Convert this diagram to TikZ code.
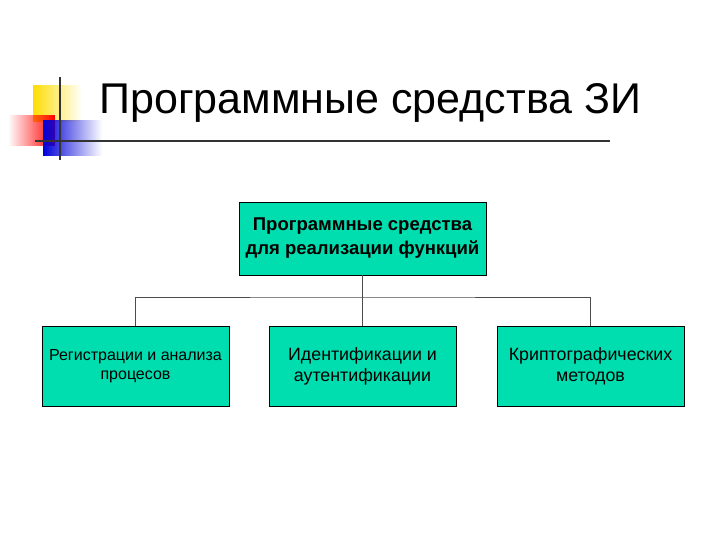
\documentclass[tikz,border=0pt]{standalone}
\usepackage{fontspec}
\setmainfont{Liberation Sans}
\usetikzlibrary{fadings}
\definecolor{boxc}{RGB}{0,222,176}
\begin{document}
\begin{tikzpicture}[x=1pt,y=-1pt,
  bx/.style={draw=black,fill=boxc,inner sep=0pt,align=center},
  ln/.style={draw=black!70,line width=0.6pt}]
\useasboundingbox (0,0) rectangle (720,540);
\fill[yellow!80!orange,path fading=east] (33,85) rectangle (82,122);
\fill[red,path fading=west] (8,115) rectangle (55,146);
\fill[blue!85!black,path fading=east] (43,120) rectangle (102,156);
\draw[line width=1.2pt,black!80] (60,77) -- (60,160);
\draw[line width=1.2pt,black!80] (35,141) -- (610,141);
\node[anchor=west,font=\fontsize{43}{48}\selectfont] (title) at (96,103) {Программные средства ЗИ};
\node[bx,minimum width=247pt,minimum height=73pt,font=\bfseries\fontsize{18.5}{24}\selectfont] (top) at (362.5,238.5) {Программные средства\\для реализации функций};
\node[bx,minimum width=187pt,minimum height=80pt,font=\fontsize{16}{19}\selectfont] (a) at (135.5,366) {Регистрации и анализа\\процесов};
\node[bx,minimum width=187pt,minimum height=80pt,font=\fontsize{17.8}{21}\selectfont] (b) at (362.5,366) {Идентификации и\\аутентификации};
\node[bx,minimum width=187pt,minimum height=80pt,font=\fontsize{17.8}{21}\selectfont] (c) at (590.5,366) {Криптографических\\методов};
\coordinate (j) at (362.5,297);
\draw[ln] (top.south) -- (j);
\draw[ln] (a.north) |- (j) -| (c.north);
\draw[ln] (j) -- (b.north);
\end{tikzpicture}
\end{document}
